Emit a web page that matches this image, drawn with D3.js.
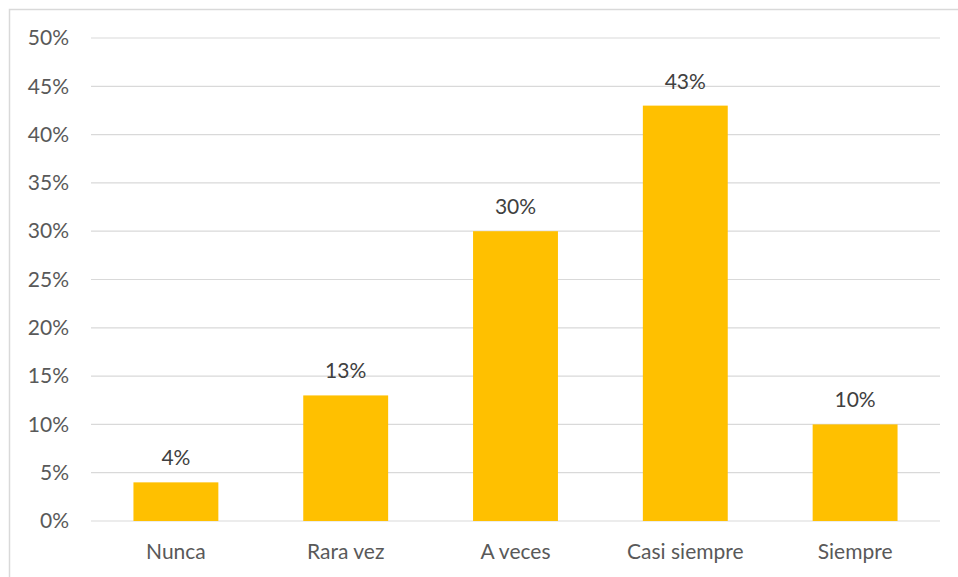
<!DOCTYPE html>
<html>
<head>
<meta charset="utf-8">
<script src="https://cdn.jsdelivr.net/npm/d3@7"></script>
<style>
  html, body { margin: 0; padding: 0; background: #fff; }
  svg text { font-family: Lato, "Open Sans", sans-serif; }
</style>
</head>
<body>
<svg id="chart" width="958" height="577"></svg>
<script>
const categories = ["Nunca", "Rara vez", "A veces", "Casi siempre", "Siempre"];
const values = [4, 13, 30, 43, 10];
const yTicks = [0, 5, 10, 15, 20, 25, 30, 35, 40, 45, 50];

const svg = d3.select("#chart");
const W = 958, H = 577;
const plotL = 91, plotR = 940, plotT = 38, plotB = 521;
const fontSize = 21;

// chart frame: top and left edges only
svg.append("path")
  .attr("d", `M9.5,${H} V9.5 H${W}`)
  .attr("fill", "none")
  .attr("stroke", "#d9d9d9")
  .attr("stroke-width", 1.5);

const x = d3.scaleBand().domain(categories).range([plotL, plotR]).paddingInner(0.5).paddingOuter(0.25);
const y = d3.scaleLinear().domain([0, 50]).range([plotB, plotT]);

// horizontal gridlines
svg.append("g").selectAll("line").data(yTicks).join("line")
  .attr("x1", plotL).attr("x2", plotR)
  .attr("y1", d => y(d)).attr("y2", d => y(d))
  .attr("stroke", "#d9d9d9").attr("stroke-width", 1.2);

// y axis labels
const yAxis = d3.axisLeft(y).tickValues(yTicks).tickFormat(d => d + "%").tickSize(0).tickPadding(22);
const gy = svg.append("g").attr("transform", `translate(${plotL},0)`).call(yAxis);
gy.select(".domain").remove();
gy.selectAll("text").attr("font-size", fontSize).attr("fill", "#595959").attr("font-family", "Lato, 'Open Sans', sans-serif");

// bars
svg.append("g").selectAll("rect").data(values).join("rect")
  .attr("x", (d, i) => x(categories[i]))
  .attr("width", x.bandwidth())
  .attr("y", d => y(d))
  .attr("height", d => y(0) - y(d))
  .attr("fill", "#ffc000");

// value labels
svg.append("g").selectAll("text").data(values).join("text")
  .attr("x", (d, i) => x(categories[i]) + x.bandwidth() / 2)
  .attr("y", d => y(d) - 17)
  .attr("text-anchor", "middle")
  .attr("font-size", fontSize)
  .attr("fill", "#404040")
  .text(d => d + "%");

// category labels
const xAxis = d3.axisBottom(x).tickSize(0).tickPadding(23);
const gx = svg.append("g").attr("transform", `translate(0,${plotB})`).call(xAxis);
gx.select(".domain").remove();
gx.selectAll("text").attr("font-size", fontSize).attr("fill", "#595959").attr("font-family", "Lato, 'Open Sans', sans-serif");
</script>
</body>
</html>
